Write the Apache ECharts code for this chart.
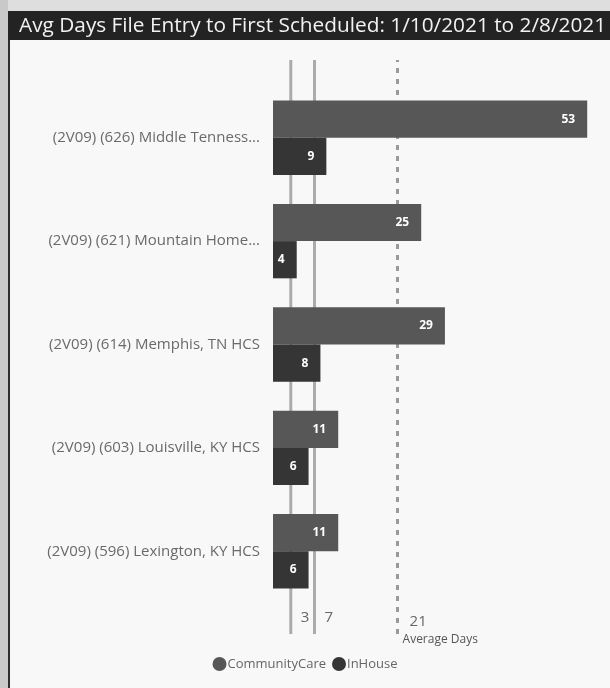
<!DOCTYPE html>
<html><head><meta charset="utf-8">
<script src="https://cdn.jsdelivr.net/npm/echarts@6/dist/echarts.min.js"></script>
<style>html,body{margin:0;padding:0;background:#f8f8f8;}#c{width:610px;height:688px;}</style>
</head><body><div id="c"></div>
<script>
const titleText = 'Avg Days File Entry to First Scheduled: 1/10/2021 to 2/8/2021';
const categories = ['(2V09) (626) Middle Tenness...', '(2V09) (621) Mountain Home...', '(2V09) (614) Memphis, TN HCS', '(2V09) (603) Louisville, KY HCS', '(2V09) (596) Lexington, KY HCS'];
const communityCare = [53, 25, 29, 11, 11];
const inHouse = [9, 4, 8, 6, 6];
const refValues = [3, 7, 21];
const refNotes = ['', '', 'Average Days'];
const seriesNames = ['CommunityCare', 'InHouse'];

const chart = echarts.init(document.getElementById('c'));
const FONT = 'Open Sans';
const xMax = 56;

const refSeries = refValues.map((v, i) => ({
  type: 'line', xAxisIndex: 1, yAxisIndex: 1, z: 1,
  symbol: 'none', silent: true,
  lineStyle: refNotes[i] ? { color: '#9a9a9a', width: 3, type: [5, 6] } : { color: '#ababab', width: 3 },
  data: [
    { value: [v, 0], symbol: 'circle', symbolSize: 0.1,
      label: refNotes[i] ? {
        show: true, position: 'right', distance: 0, offset: [5, -4],
        formatter: '{a|' + v + '}\n{b|' + refNotes[i] + '}',
        rich: {
          a: { fontFamily: FONT, fontSize: 15, color: '#666', lineHeight: 20, padding: [0, 0, 0, 7] },
          b: { fontFamily: FONT, fontSize: 12, color: '#555', lineHeight: 16 }
        }
      } : {
        show: true, position: 'right', distance: 0, offset: [10, -16],
        formatter: String(v), fontFamily: FONT, fontSize: 15, color: '#666'
      } },
    [v, 1]
  ]
}));

chart.setOption({
  backgroundColor: '#f8f8f8',
  animation: false,
  graphic: [
    { type: 'rect', shape: { x: 0, y: 0, width: 610, height: 11 }, style: { fill: '#dedede' }, z: -10 },
    { type: 'rect', shape: { x: 0, y: 0, width: 8, height: 688 }, style: { fill: '#c9c9c9' }, z: -9 },
    { type: 'rect', shape: { x: 8, y: 11, width: 2, height: 677 }, style: { fill: '#2e2e2e' }, z: -8 },
    { type: 'rect', shape: { x: 8, y: 11, width: 602, height: 29 }, style: { fill: '#232323' }, z: -7 }
  ],
  title: {
    text: titleText, left: 19, top: 12, padding: 0,
    textStyle: { color: '#f2f2f2', fontFamily: FONT, fontSize: 20.8, fontWeight: 'normal', lineHeight: 29 }
  },
  legend: {
    bottom: 12, left: 'center', icon: 'circle', itemWidth: 14, itemHeight: 14, itemGap: 6,
    data: seriesNames,
    textStyle: { color: '#666', fontFamily: FONT, fontSize: 13, padding: [0, 0, 0, -4] }
  },
  grid: [
    { left: 273, right: 5, top: 86, bottom: 85 },
    { left: 273, right: 5, top: 60, bottom: 54 }
  ],
  xAxis: [
    { type: 'value', gridIndex: 0, min: 0, max: xMax, show: false },
    { type: 'value', gridIndex: 1, min: 0, max: xMax, show: false }
  ],
  yAxis: [
    { type: 'category', gridIndex: 0, data: categories, inverse: true,
      axisLine: { show: false }, axisTick: { show: false },
      axisLabel: { color: '#6a6a6a', fontFamily: FONT, fontSize: 15, margin: 13 } },
    { type: 'value', gridIndex: 1, min: 0, max: 1, show: false }
  ],
  series: [
    { name: seriesNames[0], type: 'bar', data: communityCare, z: 3, barGap: 0, barCategoryGap: '28%',
      itemStyle: { color: '#575757' },
      label: { show: true, position: 'insideRight', distance: 12, color: '#fff', fontFamily: FONT, fontSize: 12, fontWeight: 'bold' } },
    { name: seriesNames[1], type: 'bar', data: inHouse, z: 3, barGap: 0, barCategoryGap: '28%',
      itemStyle: { color: '#353535' },
      label: { show: true, position: 'insideRight', distance: 12, color: '#fff', fontFamily: FONT, fontSize: 12, fontWeight: 'bold' } },
    ...refSeries
  ]
});
</script>
</body></html>
